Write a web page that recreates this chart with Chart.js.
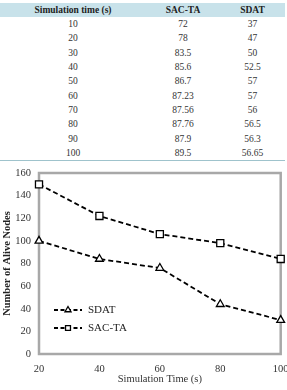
<!DOCTYPE html>
<html>
<head>
<meta charset="utf-8">
<script src="https://cdn.jsdelivr.net/npm/chart.js@4"></script>
<style>
    body { margin: 0; background: #fff; width: 287px; height: 390px; overflow: hidden; font-family: "Liberation Serif", "Times New Roman", "DejaVu Serif", serif; }
    #table-wrap { position: absolute; left: 0; top: 3px; width: 285px; }
    table { border-collapse: collapse; width: 285px; font-size: 9.5px; color: #333; font-family: inherit; }
    th { background: #c8e2ea; height: 14px; padding: 0; font-weight: bold; color: #222; }
    td { height: 14.33px; padding: 0; text-align: center; }
    tr.last td { border-bottom: 1px solid #9fc3cc; }
    #chart-wrap { position: absolute; left: 0; top: 162px; width: 287px; height: 228px; }
</style>
</head>
<body>
<div id="table-wrap">
    <table>
        <colgroup><col style="width:146px"><col style="width:74px"><col style="width:65px"></colgroup>
        <thead><tr><th>Simulation time (s)</th><th>SAC-TA</th><th>SDAT</th></tr></thead>
        <tbody id="table-body"></tbody>
    </table>
</div>
<div id="chart-wrap"><canvas id="aliveChart" width="287" height="228"></canvas></div>

<script>
// Table values
const tableTimes = [10, 20, 30, 40, 50, 60, 70, 80, 90, 100];
const tableSacTa = ['72', '78', '83.5', '85.6', '86.7', '87.23', '87.56', '87.76', '87.9', '89.5'];
const tableSdat = ['37', '47', '50', '52.5', '57', '57', '56', '56.5', '56.3', '56.65'];

// Chart values
const chartTimes = ['20', '40', '60', '80', '100'];
const sdatNodes = [100, 84, 76, 44, 30];
const sacTaNodes = [150, 122, 106, 98, 84];

// Fill the table rows
const tbody = document.getElementById('table-body');
tableTimes.forEach((t, i) => {
    const tr = document.createElement('tr');
    if (i === tableTimes.length - 1) tr.className = 'last';
    [t, tableSacTa[i], tableSdat[i]].forEach(v => {
        const td = document.createElement('td');
        td.textContent = v;
        tr.appendChild(td);
    });
    tbody.appendChild(tr);
});

const serif = '"Liberation Serif", "Times New Roman", "DejaVu Serif", serif';

// Gray box round the plot area
const frame = {
    id: 'frame',
    beforeDatasetsDraw(chart) {
        const a = chart.chartArea;
        const ctx = chart.ctx;
        ctx.save();
        ctx.strokeStyle = '#a8a8a8';
        ctx.lineWidth = 2.5;
        ctx.strokeRect(a.left, a.top, a.right - a.left, a.bottom - a.top);
        ctx.restore();
    }
};

// Legend drawn inside the plot, lower left
const insideLegend = {
    id: 'insideLegend',
    afterDatasetsDraw(chart) {
        const a = chart.chartArea;
        const ctx = chart.ctx;
        ctx.save();
        chart.data.datasets.forEach((ds, i) => {
            const y = a.bottom - 44 + i * 18;
            const x0 = a.left + 15;
            ctx.strokeStyle = '#000';
            ctx.lineWidth = 1.8;
            ctx.setLineDash([4, 2.5]);
            ctx.beginPath();
            ctx.moveTo(x0, y);
            ctx.lineTo(x0 + 28, y);
            ctx.stroke();
            ctx.setLineDash([]);
            ctx.fillStyle = '#fff';
            ctx.strokeStyle = '#000';
            ctx.lineWidth = 1.3;
            Chart.helpers.drawPoint(ctx, {
                pointStyle: ds.pointStyle, radius: 3.5, borderWidth: 1.3
            }, x0 + 14, y);
            ctx.fillStyle = '#222';
            ctx.font = '11px ' + serif;
            ctx.textBaseline = 'middle';
            ctx.fillText(ds.label, x0 + 34, y);
        });
        ctx.restore();
    }
};

const ctx = document.getElementById('aliveChart').getContext('2d');
new Chart(ctx, {
    type: 'line',
    data: {
        labels: chartTimes,
        datasets: [{
            label: 'SDAT',
            data: sdatNodes,
            borderColor: '#000',
            borderWidth: 1.8,
            borderDash: [5, 3],
            pointStyle: 'triangle',
            pointRadius: 4.5,
            pointBorderWidth: 1.3,
            pointBackgroundColor: '#fff',
            pointBorderColor: '#000',
            tension: 0
        }, {
            label: 'SAC-TA',
            data: sacTaNodes,
            borderColor: '#000',
            borderWidth: 1.8,
            borderDash: [5, 3],
            pointStyle: 'rect',
            pointRadius: 5,
            pointBorderWidth: 1.3,
            pointBackgroundColor: '#fff',
            pointBorderColor: '#000',
            tension: 0
        }]
    },
    options: {
        responsive: false,
        animation: false,
        devicePixelRatio: 1,
        layout: { padding: { top: 11, right: 5, left: 0, bottom: 0 } },
        plugins: {
            legend: { display: false },
            tooltip: { enabled: false }
        },
        scales: {
            x: {
                grid: { display: false, drawTicks: false },
                border: { display: false },
                ticks: { color: '#333', font: { family: serif, size: 10.5 }, padding: 9, maxRotation: 0 },
                title: { display: true, text: 'Simulation Time (s)', color: '#333', font: { family: serif, size: 10.5 }, padding: { top: 0, bottom: 4 } },
                afterFit(scale) {
                    scale.height = 36;
                    scale.paddingRight = 0;
                    scale.paddingLeft = 0;
                }
            },
            y: {
                min: 0,
                max: 160,
                grid: { display: false, drawTicks: false },
                border: { display: false },
                ticks: { stepSize: 20, color: '#333', font: { family: serif, size: 10.5 }, padding: 8 },
                title: { display: true, text: 'Number of Alive Nodes', color: '#222', font: { family: serif, size: 10.5, weight: 'bold' }, padding: { top: 1, bottom: 0 } },
                afterFit(scale) {
                    scale.width = 39;
                    scale.paddingTop = 0;
                    scale.paddingBottom = 0;
                }
            }
        }
    },
    plugins: [frame, insideLegend]
});
</script>
</body>
</html>
